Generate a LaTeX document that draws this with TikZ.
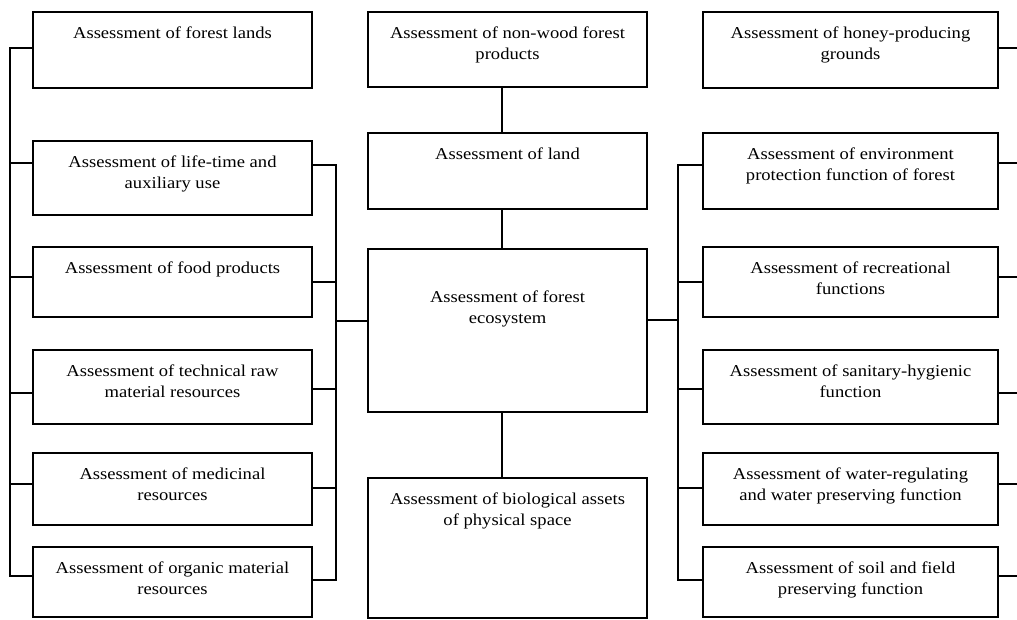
\documentclass[tikz,border=0pt]{standalone}
\usepackage{fontspec}
\setmainfont{Liberation Serif}[FakeStretch=1.12]
\begin{document}
\begin{tikzpicture}[x=1pt,y=-1pt,
  box/.style={draw, line width=1.4pt, rectangle, inner sep=0pt},
  lbox/.style={box, minimum width=279pt},
  rbox/.style={box, minimum width=295pt},
  txt/.style={anchor=north, inner sep=0pt, align=center, font=\fontsize{16.6}{20.5}\selectfont},
  conn/.style={line width=1.3pt}]
\useasboundingbox (0,0) rectangle (1017,619);
% left column
\node[lbox, minimum height=76pt] (L1) at (172.5,50) {};
\node[lbox, minimum height=74pt] (L2) at (172.5,178) {};
\node[lbox, minimum height=70pt] (L3) at (172.5,282) {};
\node[lbox, minimum height=74pt] (L4) at (172.5,387) {};
\node[lbox, minimum height=72pt] (L5) at (172.5,489) {};
\node[lbox, minimum height=70pt] (L6) at (172.5,582) {};
% centre column
\node[lbox, minimum height=75pt] (A) at (507.5,49.5) {};
\node[lbox, minimum height=76pt] (B) at (507.5,171) {};
\node[lbox, minimum height=163pt] (C) at (507.5,330.5) {};
\node[lbox, minimum height=140pt] (D) at (507.5,548) {};
% right column
\node[rbox, minimum height=76pt] (R1) at (850.5,50) {};
\node[rbox, minimum height=76pt] (R2) at (850.5,171) {};
\node[rbox, minimum height=70pt] (R3) at (850.5,282) {};
\node[rbox, minimum height=74pt] (R4) at (850.5,387) {};
\node[rbox, minimum height=72pt] (R5) at (850.5,489) {};
\node[rbox, minimum height=70pt] (R6) at (850.5,582) {};
% texts
\node[txt] (tL1) at ([yshift=-15.7pt]L1.north) {Assessment of forest lands};
\node[txt] (tL2) at ([yshift=-15.7pt]L2.north) {Assessment of life-time and\\auxiliary use};
\node[txt] (tL3) at ([yshift=-15.7pt]L3.north) {Assessment of food products};
\node[txt] (tL4) at ([yshift=-15.7pt]L4.north) {Assessment of technical raw\\material resources};
\node[txt] (tL5) at ([yshift=-15.7pt]L5.north) {Assessment of medicinal\\resources};
\node[txt] (tL6) at ([yshift=-15.7pt]L6.north) {Assessment of organic material\\resources};
\node[txt] (tA) at ([yshift=-15.7pt]A.north) {Assessment of non-wood forest\\products};
\node[txt] (tB) at ([yshift=-15.7pt]B.north) {Assessment of land};
\node[txt] (tC) at ([yshift=-42.7pt]C.north) {Assessment of forest\\ecosystem};
\node[txt] (tD) at ([yshift=-15.7pt]D.north) {Assessment of biological assets\\of physical space};
\node[txt] (tR1) at ([yshift=-15.7pt]R1.north) {Assessment of honey-producing\\grounds};
\node[txt] (tR2) at ([yshift=-15.7pt]R2.north) {Assessment of environment\\protection function of forest};
\node[txt] (tR3) at ([yshift=-15.7pt]R3.north) {Assessment of recreational\\functions};
\node[txt] (tR4) at ([yshift=-15.7pt]R4.north) {Assessment of sanitary-hygienic\\function};
\node[txt] (tR5) at ([yshift=-15.7pt]R5.north) {Assessment of water-regulating\\and water preserving function};
\node[txt] (tR6) at ([yshift=-15.7pt]R6.north) {Assessment of soil and field\\preserving function};
% bus coordinates
\coordinate (LO) at (10,0);
\coordinate (LI) at (336,0);
\coordinate (RI) at (678,0);
\coordinate (RO) at (1017,0);
\coordinate (CX) at (502,0);
% centre vertical connectors
\draw[conn] (A.south -| CX) -- (B.north -| CX);
\draw[conn] (B.south -| CX) -- (C.north -| CX);
\draw[conn] (C.south -| CX) -- (D.north -| CX);
% left outer bus
\draw[conn] (L1.west |- 0,48) -- (LO |- 0,48) -- (LO |- 0,576) -- (L6.west |- 0,576);
\draw[conn] (L2.west |- 0,163) -- (LO |- 0,163);
\draw[conn] (L3.west |- 0,277) -- (LO |- 0,277);
\draw[conn] (L4.west |- 0,393) -- (LO |- 0,393);
\draw[conn] (L5.west |- 0,484) -- (LO |- 0,484);
% left inner bus
\draw[conn] (L2.east |- 0,165) -- (LI |- 0,165) -- (LI |- 0,580) -- (L6.east |- 0,580);
\draw[conn] (L3.east |- 0,282) -- (LI |- 0,282);
\draw[conn] (L4.east |- 0,389) -- (LI |- 0,389);
\draw[conn] (L5.east |- 0,488) -- (LI |- 0,488);
\draw[conn] (LI |- 0,321) -- (C.west |- 0,321);
% right inner bus
\draw[conn] (R2.west |- 0,165) -- (RI |- 0,165) -- (RI |- 0,580) -- (R6.west |- 0,580);
\draw[conn] (R3.west |- 0,282) -- (RI |- 0,282);
\draw[conn] (R4.west |- 0,389) -- (RI |- 0,389);
\draw[conn] (R5.west |- 0,488) -- (RI |- 0,488);
\draw[conn] (C.east |- 0,320) -- (RI |- 0,320);
% right outer stubs
\draw[conn] (R1.east |- 0,48) -- (RO |- 0,48);
\draw[conn] (R2.east |- 0,163) -- (RO |- 0,163);
\draw[conn] (R3.east |- 0,277) -- (RO |- 0,277);
\draw[conn] (R4.east |- 0,393) -- (RO |- 0,393);
\draw[conn] (R5.east |- 0,484) -- (RO |- 0,484);
\draw[conn] (R6.east |- 0,576) -- (RO |- 0,576);
\end{tikzpicture}
\end{document}
